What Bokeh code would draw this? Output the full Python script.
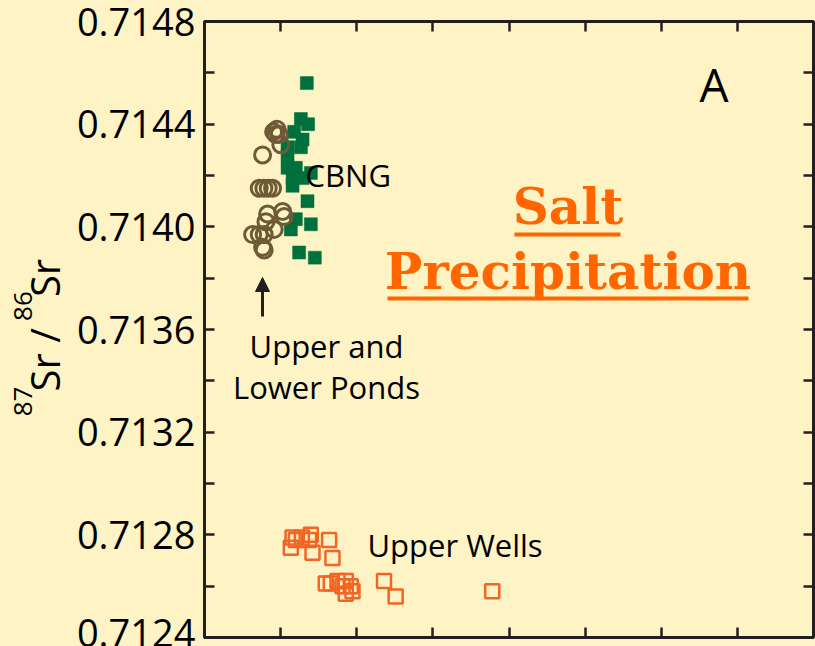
import math
from bokeh.plotting import figure
from bokeh.layouts import row
from bokeh.models import (LinearAxis, FixedTicker, PrintfTickFormatter, CustomJSTickFormatter,
                          Label, Arrow, NormalHead)
from bokeh.core.properties import value
from bokeh.embed import file_html
from bokeh.resources import INLINE

# ---------------- data ----------------
ponds_x = [0.908, 0.951, 0.981, 0.938, 1.003, 0.763, 0.719, 0.780, 0.837, 0.894,
           0.829, 1.026, 1.047, 0.807, 0.915, 0.632, 0.719, 0.784, 0.763, 0.784]
ponds_y = [0.71437, 0.71438, 0.71436, 0.71436, 0.71432, 0.71428, 0.71415, 0.71415, 0.71415, 0.71415,
           0.71405, 0.71406, 0.71404, 0.71402, 0.71399, 0.71397, 0.71397, 0.71397, 0.71392, 0.71391]

cbng_x = [1.344, 1.266, 1.361, 1.178, 1.288, 1.091, 1.266, 1.091, 1.091, 1.200,
          1.397, 1.157, 1.288, 1.157, 1.353, 1.200, 1.397, 1.134, 1.243, 1.449]
cbng_y = [0.71456, 0.71442, 0.71440, 0.71437, 0.71434, 0.71431, 0.71431, 0.71428, 0.71423, 0.71423,
          0.71421, 0.71419, 0.71419, 0.71416, 0.71410, 0.71403, 0.71401, 0.71399, 0.71390, 0.71388]

wells_x = [1.157, 1.200, 1.134, 1.397, 1.374, 1.637, 1.419, 1.681, 1.279,
           1.593, 1.659, 1.747, 1.812, 1.856, 1.921, 1.944, 1.856, 2.358, 2.511, 3.780]
wells_y = [0.71279, 0.71278, 0.71275, 0.71280, 0.71278, 0.71278, 0.71273, 0.71271, 0.71279,
           0.71261, 0.71261, 0.71262, 0.71260, 0.71262, 0.71260, 0.71258, 0.71257, 0.71262, 0.71256, 0.71258]

y_ticks = [0.7124, 0.7128, 0.7132, 0.7136, 0.7140, 0.7144, 0.7148]
y_minor = [0.7126, 0.7130, 0.7134, 0.7138, 0.7142, 0.7146]
x_ticks = [1, 2, 3, 4, 5, 6, 7]

# ---------------- style ----------------
BG = "#FDF3C5"
DARK = "#231F20"
BROWN = "#6F5A38"
GREEN = "#00703C"
ORANGE = "#F26522"
SALT = "#FF6600"
FONT = "Open Sans"

LEFT_W = 72          # width of the strip holding the rotated y title
FRAME_L, FRAME_R, FRAME_T, FRAME_B = 204, 813, 21, 637


def X(px):  # page pixel -> data x (for annotation placement)
    return (px - FRAME_L) / (FRAME_R - FRAME_L) * 8.0


def Y(py):  # page pixel -> data y (for annotation placement)
    return 0.7148 - (py - FRAME_T) / (FRAME_B - FRAME_T) * 0.0024


p = figure(width=815 - LEFT_W, height=646, x_range=(0, 8), y_range=(0.7124, 0.7148),
           output_backend="svg", toolbar_location=None,
           min_border_left=FRAME_L - LEFT_W, min_border_right=815 - FRAME_R,
           min_border_top=FRAME_T, min_border_bottom=646 - FRAME_B,
           background_fill_color=BG, border_fill_color=BG,
           x_axis_location=None, y_axis_location=None)
p.grid.visible = False
p.outline_line_color = DARK
p.outline_line_width = 3

empty = CustomJSTickFormatter(code="return ''")


def style_axis(ax):
    ax.axis_line_color = DARK
    ax.axis_line_width = 3
    ax.major_tick_in = 10
    ax.major_tick_out = 0
    ax.minor_tick_in = 10
    ax.minor_tick_out = 0
    ax.major_tick_line_color = DARK
    ax.minor_tick_line_color = DARK
    ax.major_tick_line_width = 2.5
    ax.minor_tick_line_width = 2.5


yl = LinearAxis(ticker=FixedTicker(ticks=y_ticks, minor_ticks=y_minor),
                formatter=PrintfTickFormatter(format="%.4f"))
style_axis(yl)
yl.major_label_text_font = FONT
yl.major_label_text_font_size = "38px"
yl.major_label_text_color = "black"
yl.major_label_standoff = 9
p.add_layout(yl, "left")

for place, tk in [("right", FixedTicker(ticks=y_ticks, minor_ticks=y_minor)),
                  ("below", FixedTicker(ticks=x_ticks, minor_ticks=[])),
                  ("above", FixedTicker(ticks=x_ticks, minor_ticks=[]))]:
    ax = LinearAxis(ticker=tk, formatter=empty)
    style_axis(ax)
    ax.major_label_standoff = 0
    ax.major_label_text_font_size = "1px"
    p.add_layout(ax, place)

# ---------------- glyphs ----------------
p.scatter(wells_x, wells_y, marker="square", size=14, fill_color=None,
          line_color=ORANGE, line_width=2.5)
p.scatter(cbng_x, cbng_y, marker="square", size=13, fill_color=GREEN, line_color=GREEN, line_width=0.5)
p.scatter(ponds_x, ponds_y, marker="circle", size=16, fill_color=None,
          line_color=BROWN, line_width=3)

# ---------------- annotations ----------------
BASE_K = 0.38   # observed offset of the rendered baseline (fraction of font size)


def lab(px, py, t, fs, align="left", font=FONT, color="black", style="normal"):
    p.add_layout(Label(x=X(px), y=Y(py - BASE_K * fs), text=t, text_font=font,
                       text_font_size=f"{fs}px", text_font_style=style,
                       text_color=color, text_align=align, text_baseline="alphabetic"))


lab(305, 186, "CBNG", 31)
lab(326, 357, "Upper and", 31, "center")
lab(326, 398, "Lower Ponds", 31, "center")
lab(367, 556, "Upper Wells", 31)
lab(713.5, 101, "A", 46, "center")
lab(567.5, 225, "Salt", 50, "center", font="DejaVu Serif", color=SALT, style="bold")
lab(567.5, 290, "Precipitation", 50, "center", font="DejaVu Serif", color=SALT, style="bold")

p.segment(x0=[X(514), X(387)], y0=[Y(234), Y(298)], x1=[X(620), X(748)], y1=[Y(234), Y(298)],
          line_color=SALT, line_width=4)

p.add_layout(Arrow(end=NormalHead(size=14, fill_color=DARK, line_color=DARK),
                   x_start=X(262), y_start=Y(316), x_end=X(262), y_end=Y(277),
                   line_color=DARK, line_width=3))

# ---------------- rotated y-axis title (87Sr / 86Sr) ----------------
t = figure(width=LEFT_W, height=646, x_range=(0, LEFT_W), y_range=(646, 0),
           output_backend="svg", toolbar_location=None,
           min_border=0, background_fill_color=BG, border_fill_color=BG,
           x_axis_location=None, y_axis_location=None)
t.grid.visible = False
t.outline_line_color = None

rot = math.pi / 2
# (baseline x, start y, text, font size) in page pixels
pieces = [(32, 414, "87", 26), (59, 388, "Sr /", 40), (32, 314, "86", 26), (59, 289, "Sr", 40)]
for bx, sy, txt, fs in pieces:
    t.text(x=[bx - BASE_K * fs], y=[sy], text=[txt], angle=rot,
           text_font=value(FONT), text_font_size=value(f"{fs}px"), text_color="black",
           text_align="left", text_baseline="alphabetic")

layout = row(t, p, spacing=0, styles={"background-color": BG})
html = file_html(layout, INLINE)
css = f"<style>html, body {{ background-color: {BG}; }}</style>"
html = html.replace("</head>", css + "</head>", 1)
open("out.html", "w").write(html)
